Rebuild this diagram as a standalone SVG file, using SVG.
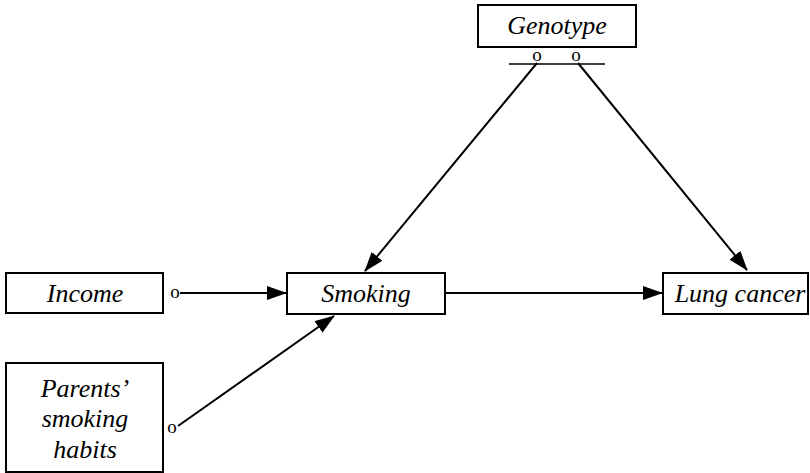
<svg xmlns="http://www.w3.org/2000/svg" width="810" height="473" viewBox="0 0 810 473">
<style>
.box{fill:#fff;stroke:#000;stroke-width:2}
.edge{stroke:#000;stroke-width:2;fill:none}
</style>
<defs>
<marker id="ah" markerWidth="20" markerHeight="14" refX="19" refY="7" orient="auto" markerUnits="userSpaceOnUse">
<path d="M0,0 L20,7 L0,14 Z" fill="#000"/>
</marker>
</defs>
<rect width="810" height="473" fill="#fff"/>
<g id="genotype">
<rect class="box" x="478" y="5" width="158" height="42"/>
<text x="557" y="34" font-family="Times New Roman, Liberation Serif, serif" font-style="italic" font-size="26" text-anchor="middle">Genotype</text>
<text x="537" y="61" font-family="Times New Roman, Liberation Serif, serif" font-size="19" text-anchor="middle">o</text>
<text x="576" y="61" font-family="Times New Roman, Liberation Serif, serif" font-size="19" text-anchor="middle">o</text>
<line x1="509" y1="64" x2="605" y2="64" stroke="#000" stroke-width="1.5"/>
</g>
<g id="income">
<rect class="box" x="6" y="273" width="157" height="40"/>
<text x="85" y="302" font-family="Times New Roman, Liberation Serif, serif" font-style="italic" font-size="26" text-anchor="middle">Income</text>
<text x="175" y="298" font-family="Times New Roman, Liberation Serif, serif" font-size="19" text-anchor="middle">o</text>
</g>
<g id="smoking">
<rect class="box" x="287" y="273" width="158" height="41"/>
<text x="366" y="302" font-family="Times New Roman, Liberation Serif, serif" font-style="italic" font-size="26" text-anchor="middle">Smoking</text>
</g>
<g id="lungcancer">
<rect class="box" x="663" y="273" width="145" height="41"/>
<text x="740" y="302" font-family="Times New Roman, Liberation Serif, serif" font-style="italic" font-size="26" text-anchor="middle">Lung cancer</text>
</g>
<g id="parents">
<rect class="box" x="6" y="363" width="157" height="109"/>
<text x="85" y="397" font-family="Times New Roman, Liberation Serif, serif" font-style="italic" font-size="26" text-anchor="middle">Parents’</text>
<text x="85" y="427" font-family="Times New Roman, Liberation Serif, serif" font-style="italic" font-size="26" text-anchor="middle">smoking</text>
<text x="85" y="458" font-family="Times New Roman, Liberation Serif, serif" font-style="italic" font-size="26" text-anchor="middle">habits</text>
<text x="172" y="433" font-family="Times New Roman, Liberation Serif, serif" font-size="19" text-anchor="middle">o</text>
</g>
<g id="connectors">
<line class="edge" x1="180" y1="293" x2="286" y2="293" marker-end="url(#ah)"/>
<line class="edge" x1="445" y1="293" x2="662" y2="293" marker-end="url(#ah)"/>
<line class="edge" x1="178" y1="426" x2="334" y2="316" marker-end="url(#ah)"/>
<line class="edge" x1="537" y1="63" x2="365" y2="271" marker-end="url(#ah)"/>
<line class="edge" x1="578" y1="63" x2="747" y2="270" marker-end="url(#ah)"/>
</g>
</svg>
